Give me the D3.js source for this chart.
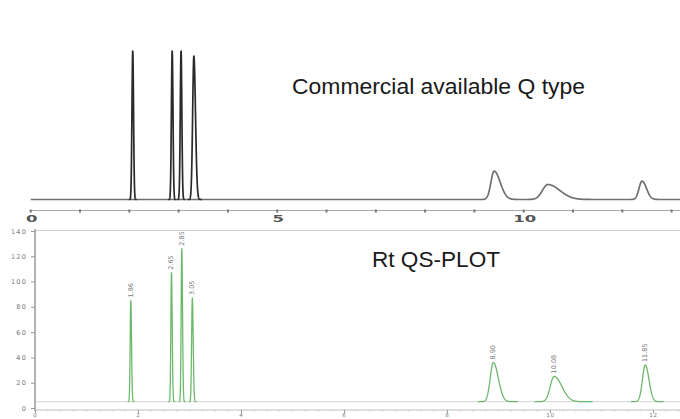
<!DOCTYPE html>
<html><head><meta charset="utf-8">
<script src="https://cdn.jsdelivr.net/npm/d3@7"></script>
<style>
html,body{margin:0;padding:0;background:#fff;}
svg{display:block;}
</style></head>
<body>
<svg id="c" width="680" height="419"></svg>
<script>
// ---- Top chromatogram (Commercial available Q type) ----
const topRt     = [2.07, 2.87, 3.05, 3.31, 9.40, 10.49, 12.40];
const topHeight = [100, 100, 100, 96.6, 19.1, 10.1, 12.4];
const topSigma  = [0.016, 0.016, 0.016, 0.025, 0.065, 0.11, 0.06];
const topTail   = [1.0, 1.0, 1.0, 1.3, 1.9, 2.2, 1.5];
const topTicks  = [0,1,2,3,4,5,6,7,8,9,10,11,12,13];
const topLabels = [0, 5, 10];

// ---- Bottom chromatogram (Rt QS-PLOT) ----
const botRt     = [1.86, 2.65, 2.85, 3.055, 8.90, 10.08, 11.85];
const botHeight = [80, 102, 121, 82, 31, 20, 29];
const botSigma  = [0.012, 0.012, 0.012, 0.014, 0.06, 0.075, 0.055];
const botTail   = [1.2, 1.2, 1.2, 1.2, 1.6, 2.0, 1.3];
const botPeakLabels = ["1.86", "2.65", "2.85", "3.05", "8.90", "10.08", "11.85"];
const botBaseline = 5;
const botYTicks = [0, 20, 40, 60, 80, 100, 120, 140];
const botXTicks = [0, 2, 4, 6, 8, 10, 12];

const svg = d3.select("#c");

function peakSignal(t, rt, h, s, tail){
  const sd = t < rt ? s : s*tail;
  const z = (t-rt)/sd;
  return h*Math.exp(-0.5*z*z);
}
function peakPoints(rt, h, s, tail){
  const pts = [];
  const a = rt - 5*s, b = rt + 5*s*tail;
  const step = s/12;
  for(let t=a; t<=b+1e-9; t+=step) pts.push([t, peakSignal(t, rt, h, s, tail)]);
  return pts;
}

// ===== TOP =====
const xT = d3.scaleLinear().domain([0, 13.3]).range([30.7, 30.7 + 13.3*49.3]);
const yT = d3.scaleLinear().domain([0, 100]).range([199.5, 51]);
const lineT = d3.line().x(d=>xT(d[0])).y(d=>yT(d[1]));

// continuous trace: baseline plus broad peaks
const topTrace = [];
for (let t = 0; t <= 13.3 + 1e-9; t += 0.004) {
  let v = 0;
  topRt.forEach((rt,i)=>{ if (topSigma[i] >= 0.03) v += peakSignal(t, rt, topHeight[i], topSigma[i], topTail[i]); });
  topTrace.push([t, v]);
}
svg.append("path").attr("d", lineT(topTrace)).attr("fill","none")
  .attr("stroke", "#707070").attr("stroke-width", 1.7).attr("stroke-linejoin","round");
topRt.forEach((rt,i)=>{
  if (topSigma[i] >= 0.03) return;
  svg.append("path").attr("d", lineT(peakPoints(rt, topHeight[i], topSigma[i], topTail[i])))
    .attr("fill","none").attr("stroke", "#2a2a2a").attr("stroke-width", 1.7)
    .attr("stroke-linejoin","round");
});
const gTA = svg.append("g");
gTA.append("line").attr("x1", xT(0)).attr("x2", 680).attr("y1", 210.5).attr("y2", 210.5)
  .attr("stroke", "#a8a8a8").attr("stroke-width", 1.2);
gTA.selectAll("rect.tk").data(topTicks).join("rect").attr("class","tk")
  .attr("x", d=>xT(d)-1).attr("y", 209.5).attr("width", 2).attr("height", 3).attr("fill", "#777");
gTA.selectAll("text").data(topLabels).join("text")
  .attr("x", d=>xT(d)+1).attr("y", 222).attr("text-anchor","middle")
  .attr("font-family","DejaVu Sans, sans-serif").attr("font-weight","bold").attr("font-size", 11)
  .attr("fill","#555").attr("transform", d=>`translate(${xT(d)+1},222) scale(1.5,0.8) translate(${-(xT(d)+1)},-222)`)
  .text(d=>d);

svg.append("text").attr("x", 292).attr("y", 94)
  .attr("font-family","Liberation Sans, Arial, sans-serif").attr("font-size", 22).attr("fill","#1a1a1a")
  .attr("textLength", 293).attr("lengthAdjust", "spacingAndGlyphs")
  .text("Commercial available Q type");

// ===== BOTTOM =====
const xB = d3.scaleLinear().domain([0, 12.6]).range([35, 35 + 12.6*51.5]);
const yB = d3.scaleLinear().domain([0, 140]).range([408, 231]);
const lineB = d3.line().x(d=>xB(d[0])).y(d=>yB(d[1] + botBaseline));

svg.append("line").attr("x1", 35).attr("x2", 680).attr("y1", 230.5).attr("y2", 230.5)
  .attr("stroke", "#d0d0d0").attr("stroke-width", 1);
svg.append("line").attr("x1", 36).attr("x2", 680).attr("y1", yB(botBaseline)).attr("y2", yB(botBaseline))
  .attr("stroke", "#cfd6cf").attr("stroke-width", 1);

const gY = svg.append("g").attr("transform", "translate(35,0)")
  .call(d3.axisLeft(yB).tickValues(botYTicks).tickSize(4).tickSizeOuter(0));
gY.select(".domain").attr("stroke", "#a0a0a0").attr("stroke-width", 1.6).attr("d", "M0,229V411");
gY.selectAll(".tick line").attr("stroke", "#999");
gY.selectAll(".tick text").attr("font-family","DejaVu Sans, sans-serif").attr("font-size", 6.5)
  .attr("letter-spacing", 1.2).attr("fill","#777").attr("x", -8);

const gX = svg.append("g").attr("transform", "translate(0,410)")
  .call(d3.axisBottom(xB).tickValues(botXTicks).tickSize(3).tickSizeOuter(0));
gX.select(".domain").attr("stroke", "#bdbdbd").attr("stroke-width", 1).attr("d", "M35,0H680");
gX.selectAll(".tick line").attr("stroke", "#999");
gX.selectAll(".tick text").attr("font-family","DejaVu Sans, sans-serif").attr("font-size", 5.5)
  .attr("letter-spacing", 0.8).attr("fill","#777").attr("y", 3.5);
const minor = d3.range(0, 12.61, 0.25).filter(v => Math.abs(v/2 - Math.round(v/2)) > 1e-6);
gX.selectAll("line.minor").data(minor).join("line").attr("class","minor")
  .attr("x1", d=>xB(d)).attr("x2", d=>xB(d)).attr("y1", 0).attr("y2", 1.5)
  .attr("stroke", "#c8c8c8");

botRt.forEach((rt,i)=>{
  svg.append("path").attr("d", lineB(peakPoints(rt, botHeight[i], botSigma[i], botTail[i])))
    .attr("fill","none").attr("stroke","#6cb96c").attr("stroke-width", 1.3)
    .attr("stroke-linejoin","round");
  const px = xB(rt), py = yB(botHeight[i] + botBaseline) - 3;
  svg.append("text").attr("transform", `translate(${px+2},${py}) rotate(-90)`)
    .attr("font-family","DejaVu Sans, sans-serif").attr("font-size", 6.5).attr("fill","#777")
    .text(botPeakLabels[i]);
});

svg.append("text").attr("x", 372).attr("y", 267)
  .attr("font-family","Liberation Sans, Arial, sans-serif").attr("font-size", 22.5).attr("fill","#1a1a1a")
  .attr("textLength", 128).attr("lengthAdjust", "spacingAndGlyphs")
  .text("Rt QS-PLOT");
</script>
</body></html>
